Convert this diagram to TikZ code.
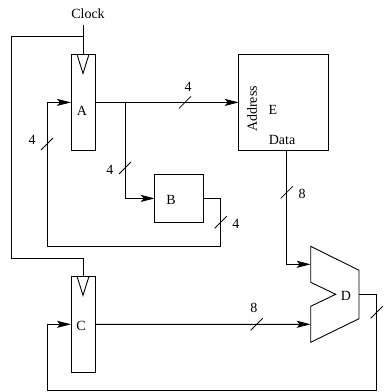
\documentclass[tikz,border=0pt]{standalone}
\usepackage{fontspec}
\setmainfont{Liberation Serif}
\usetikzlibrary{positioning,arrows.meta}
\tikzset{
  reg/.style={
    rectangle,
    draw=black,line width=.9pt,
    minimum width=24pt,
    minimum height=96pt,
    inner sep=0pt,
    outer sep=0pt},
  boite/.style={
    rectangle,
    draw=black,line width=.9pt,
    inner sep=0pt,
    outer sep=0pt},
  lbl/.style={inner sep=0pt,font=\fontsize{14}{14}\selectfont},
  line/.style={draw,line width=.9pt},
  arrow/.style={line,-{Stealth[length=14pt,width=7pt,inset=3pt]}},
  tick/.style={line width=.8pt},
}
\newcommand{\bustick}[1]{\draw[tick] ([shift={(-6,6)}]#1) -- ([shift={(6,-6)}]#1);}
\begin{document}
\begin{tikzpicture}[x=1pt,y=-1pt]
  \useasboundingbox (0,0) rectangle (389,392);
  \node[reg](regA) at (83,102.4) {};
  \node[reg](regC)[below=125.9pt of regA.south,anchor=north] {};
  \node[boite,minimum width=90pt,minimum height=96pt](memE)[right=143.7pt of regA] {};
  \node[boite,minimum width=48.3pt,minimum height=47.8pt](regB) at (178.9,198.4) {};
  \node[lbl](Clock) at (88,14) {Clock};
  \node[lbl](labelA) at (82,111) {A};
  \node[lbl](labelB) at (171,200) {B};
  \node[lbl](labelC) at (81,326) {C};
  \node[lbl](labelD) at (346,296) {D};
  \node[lbl](labelE) at (273,110) {E};
  \node[lbl,rotate=90](address) at (252,109) {Address};
  \node[lbl](data) at (282,140) {Data};
  % clock triangles
  \draw[line] ([xshift=-6pt]regA.north) -- ([yshift=-19pt]regA.north) -- ([xshift=6pt]regA.north);
  \draw[line] ([xshift=-6pt]regC.north) -- ([yshift=-19pt]regC.north) -- ([xshift=6pt]regC.north);
  % mux
  \coordinate (muxin1) at (310.7,264.3);
  \coordinate (muxin2) at (310.7,324.3);
  \coordinate (muxout) at (359,294.3);
  \draw[line] (310.7,246.3) -- (359,270.3) -- (359,318.7) -- (310.7,342.3) -- (310.7,306.3)
    -- (335.7,294.3) -- (310.7,282.3) -- cycle;
  % clock
  \coordinate (clocktop) at (83,25);
  \coordinate (clockturn) at (83,36);
  \coordinate (clockleft) at (11,258.7);
  \draw[line] (clocktop) -- (regA.north);
  \draw[line] (clockturn) -| (clockleft) -| (regC.north);
  % A out
  \coordinate (branch) at (125,102.4);
  \draw[arrow] (regA.east) -- (memE.west);
  \draw[arrow] (branch) |- (regB.west);
  % B back to A
  \coordinate (Bturn) at (220.7,246.3);
  \coordinate (Aleft) at (47,246.3);
  \draw[line] (regB.east) -| (Bturn) -- (Aleft);
  \draw[arrow] (Aleft) |- (regA.west);
  % data and C to mux
  \draw[arrow] ([xshift=3pt]memE.south) |- (muxin1);
  \draw[arrow] (regC.east) -- (muxin2);
  % mux back to C
  \coordinate (Dturn) at (376.7,390.3);
  \coordinate (Cleft) at (47,390.3);
  \draw[line] (muxout) -| (Dturn) -- (Cleft);
  \draw[arrow] (Cleft) |- (regC.west);
  % bus widths
  \coordinate (tickAE) at (185,102.4);
  \coordinate (tickA) at (47,144);
  \coordinate (tickbranch) at (125,168);
  \coordinate (tickB) at (220.7,222.3);
  \coordinate (tickdata) at (286.7,192.4);
  \coordinate (tickC) at (256.7,324.3);
  \coordinate (tickD) at (376.7,312.3);
  \foreach \t in {tickAE,tickA,tickbranch,tickB,tickdata,tickC,tickD} {\bustick{\t}}
  \node[lbl](w1) at (188,87) {4};
  \node[lbl](w2) at (32,140) {4};
  \node[lbl](w3) at (110,170) {4};
  \node[lbl](w4) at (236,224) {4};
  \node[lbl](w5) at (302,194) {8};
  \node[lbl](w6) at (254,308) {8};
 \end{tikzpicture}
\end{document}
